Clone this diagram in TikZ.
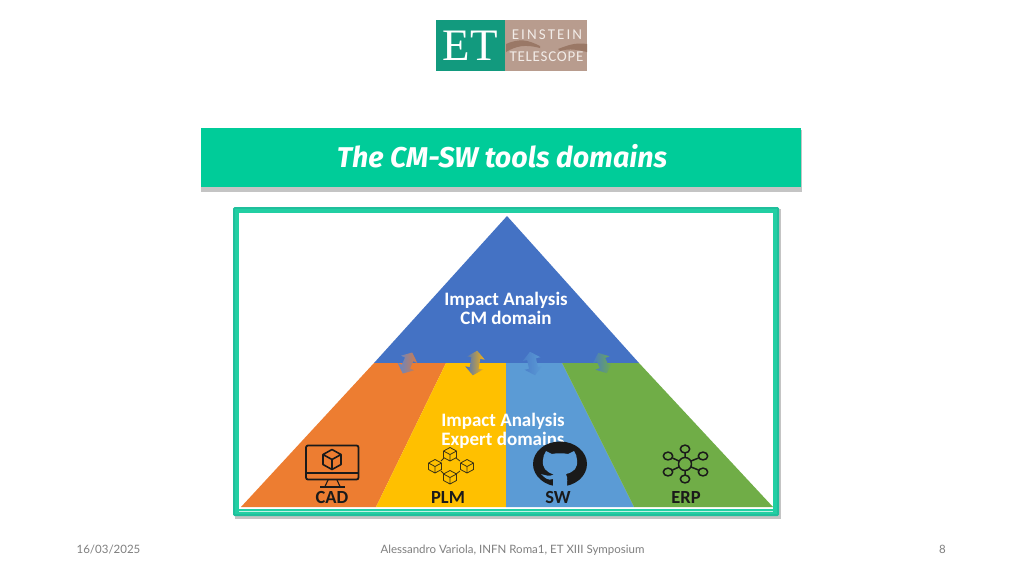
\documentclass[tikz,border=0pt]{standalone}
\usepackage{fontspec}
\setmainfont{Carlito}
\newfontfamily\titlefont{Fira Sans}
\newfontfamily\footfont{Lato}
\newfontfamily\logoserif{Liberation Serif}
\newfontfamily\logowide[LetterSpace=14]{Carlito}
\newfontfamily\logonarrow[LetterSpace=5]{Carlito}
\definecolor{band}{HTML}{00CC99}
\definecolor{frameteal}{HTML}{1FBF9C}
\definecolor{frameinner}{HTML}{22CFA3}
\definecolor{framepale}{HTML}{BFF2E4}
\definecolor{shadowgrey}{HTML}{C4C4C4}
\definecolor{apexblue}{HTML}{4472C4}
\definecolor{orangeseg}{HTML}{ED7D31}
\definecolor{yellowseg}{HTML}{FFC000}
\definecolor{blueseg}{HTML}{5B9BD5}
\definecolor{greenseg}{HTML}{70AD47}
\definecolor{logogreen}{HTML}{129A7E}
\definecolor{logotan}{HTML}{B89C8E}
\definecolor{logohand}{HTML}{9A7866}
\definecolor{logotext}{HTML}{F2ECE8}
\definecolor{foottext}{HTML}{7F7F7F}
\definecolor{icon}{HTML}{1A1A1A}
\tikzset{
  x=1pt,y=-1pt,
  foot/.style={font=\footfont\fontsize{11.5}{13}\selectfont,text=foottext,inner sep=0pt,anchor=base},
  bright/.style={font=\bfseries\fontsize{19}{19}\selectfont,text=white,align=center,inner sep=0pt},
  iconlabel/.style={font=\bfseries\fontsize{18.5}{20}\selectfont,text=icon,inner sep=0pt},
  iconline/.style={draw=icon,line width=1.1pt,line join=round},
  cubeline/.style={draw=icon!85!yellowseg,line width=.8pt,line join=round}
}
\newcommand{\isocube}[3]{%
  \begin{scope}[shift={(#1,#2)}]
    \draw[#3] (0,-6.5)--(6.5,-3)--(6.5,3.5)--(0,7)--(-6.5,3.5)--(-6.5,-3)--cycle
      (-6.5,-3)--(0,.5)--(6.5,-3) (0,.5)--(0,7);
  \end{scope}}
% x, y, rotation, half length, colour at upper tip, colour at lower tip
\newcommand{\exchange}[6]{%
  \begin{scope}[shift={(#1,#2)},rotate=#3]
    \shade[left color=#6,right color=#5]
      (-#4,0)--(-#4+7.5,-9)--(-#4+7.5,-4.5)--(#4-7.5,-4.5)--(#4-7.5,-9)--(#4,0)
      --(#4-7.5,9)--(#4-7.5,4.5)--(-#4+7.5,4.5)--(-#4+7.5,9)--cycle;
  \end{scope}}
\begin{document}
\begin{tikzpicture}
\useasboundingbox (0,0) rectangle (1024,576);
\fill[white] (0,0) rectangle (1024,576);

% logo
\fill[logotan] (505,20) rectangle (587,71);
\fill[logohand] (506,44) .. controls (520,38) and (528,40) .. (540,46) -- (540,48) .. controls (525,44) and (516,46) .. (506,52) -- cycle;
\fill[logohand] (587,44) .. controls (575,42) and (566,46) .. (558,49) -- (560,51) .. controls (570,48) and (578,50) .. (587,52) -- cycle;
\fill[logogreen] (436,20) rectangle (505,71);
\node[font=\logoserif\fontsize{45}{45}\selectfont,text=white,inner sep=0pt] (etmark) at (470,46) {ET};
\node[font=\logowide\fontsize{15}{15}\selectfont,text=logotext,inner sep=0pt] (einstein) at (547,35) {EINSTEIN};
\node[font=\logonarrow\fontsize{15}{15}\selectfont,text=logotext,inner sep=0pt] (telescope) at (546.5,57) {TELESCOPE};

% title band
\fill[shadowgrey] (201,130) rectangle (802,191.5);
\fill[band] (201,128) rectangle (801,187);
\node[font=\titlefont\bfseries\itshape\fontsize{28.6}{30}\selectfont,text=white,inner sep=0pt] (title) at (502,156) {The CM-SW tools domains};

% picture frame
\fill[shadowgrey] (235,209) rectangle (781,519);
\fill[frameteal,rounded corners=1.5pt] (233,207) rectangle (779,516);
\fill[frameinner] (235,209) rectangle (777,514);
\fill[white] (239,213) rectangle (773,508.5);
\draw[framepale,line width=.8pt] (239,511)--(773,511);

% pyramid
\fill[apexblue] (507,216)--(639,363)--(374,363)--cycle;
\fill[orangeseg] (374,363)--(446,363)--(376,507)--(241,507)--cycle;
\fill[yellowseg] (446,363)--(506,363)--(506,507)--(376,507)--cycle;
\fill[blueseg] (506,363)--(562,363)--(634,507)--(506,507)--cycle;
\fill[greenseg] (562,363)--(639,363)--(773,507)--(634,507)--cycle;

% exchange arrows
\exchange{407.5}{363}{66}{11.5}{orangeseg!85!apexblue}{apexblue!85!white}
\exchange{475}{363}{80}{12.5}{yellowseg!80!orangeseg}{apexblue}
\exchange{532.5}{363.5}{102}{12}{blueseg}{apexblue!70!blueseg}
\exchange{602.5}{363}{113}{11}{greenseg}{apexblue!80!blueseg}

% texts on the pyramid
\node[bright] (apex) at (506,308.5) {Impact Analysis\\CM domain};
\node[bright] (expert) at (503,431) {Impact Analysis\\Expert domains};

% CAD icon
\draw[iconline,line width=1.8pt,rounded corners=2pt] (306,445.5) rectangle (358.5,479.5);
\draw[iconline,line width=1.8pt] (306,473)--(358.5,473);
\draw[iconline] (328,480)--(325,486.5) (337,480)--(340,486.5);
\draw[iconline,line width=1.8pt] (320,486.8)--(345,486.8);
\draw[iconline,line width=1.6pt] (332,449.5)--(341,454.5)--(341,464.5)--(332,469.5)--(323,464.5)--(323,454.5)--cycle
  (323,454.5)--(332,459.5)--(341,454.5) (332,459.5)--(332,469.5);
\node[iconlabel] (cad) at (332,497) {CAD};

% PLM icon
\isocube{450}{454}{cubeline}
\isocube{435}{466}{cubeline}
\isocube{467}{466}{cubeline}
\isocube{450}{477}{cubeline}
\draw[cubeline] (444,458)--(441,461) (456,458)--(460,461) (441,471)--(444,474) (460,471)--(456,474);
\node[iconlabel] (plm) at (448,497.5) {PLM};

% SW icon
\fill[icon] (560,464) ellipse [x radius=27,y radius=22.5];
\fill[blueseg] (546,451) -- (552,454) .. controls (556,453) and (564,453) .. (568,454) -- (574,451)
  .. controls (576,454) and (577,457) .. (577,460) .. controls (578,468) and (574,472) .. (566,474)
  .. controls (568,478) and (567,482) .. (567,490) -- (553,490) .. controls (553,484) and (553,481) .. (553,479)
  .. controls (548,481) and (545,478) .. (541,474) .. controls (545,475) and (549,477) .. (554,474.5)
  .. controls (546,472) and (542,468) .. (543,460) .. controls (543,457) and (544,454) .. (546,451) -- cycle;
\node[iconlabel] (sw) at (558,497.5) {SW};

% ERP icon
\draw[iconline,line width=1.5pt] (685,464) circle (6.5);
\foreach \px/\py in {685/449,685/479,668/456,703/456,668/472,703/472}{
  \draw[iconline,line width=1.5pt] (\px,\py) ellipse [x radius=4.7,y radius=3.9];
}
\draw[iconline,line width=1.5pt] (685,453)--(685,457.5) (685,470.5)--(685,475)
  (672.5,458)--(679,461) (698.5,458)--(691,461) (672.5,470)--(679,467) (698.5,470)--(691,467);
\node[iconlabel] (erp) at (686,497.5) {ERP};

% footer
\node[foot] (date) at (108.5,553) {16/03/2025};
\node[foot] (author) at (512.5,553) {Alessandro Variola, INFN Roma1, ET XIII Symposium};
\node[foot] (page) at (942.5,553) {8};
\end{tikzpicture}
\end{document}
